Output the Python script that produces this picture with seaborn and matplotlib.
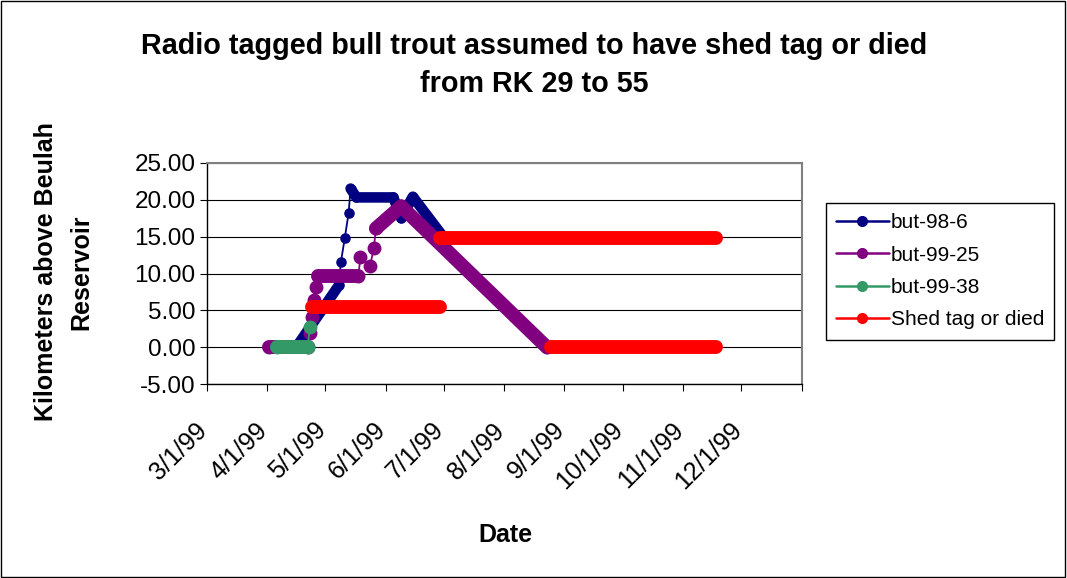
import matplotlib
matplotlib.use("Agg")
import matplotlib.pyplot as plt
import matplotlib.transforms as mtransforms
from matplotlib.lines import Line2D
from matplotlib.patches import Rectangle
import pandas as pd
import seaborn as sns

# ---------------- data ----------------
navy_dates = ["1999-04-16", "1999-05-08", "1999-05-09", "1999-05-11", "1999-05-13",
              "1999-05-14", "1999-05-17", "1999-06-05", "1999-06-09", "1999-06-15",
              "1999-06-30"]
navy_km = [0.0, 8.4, 11.5, 14.8, 18.2, 21.5, 20.3, 20.3, 17.5, 20.4, 15.2]

purple_dates = ["1999-04-02", "1999-04-22", "1999-04-23", "1999-04-24", "1999-04-25",
                "1999-04-26", "1999-04-27", "1999-05-18", "1999-05-19", "1999-05-24",
                "1999-05-26", "1999-05-27", "1999-06-09", "1999-08-23"]
purple_km = [0.0, 0.0, 1.9, 4.1, 6.4, 8.2, 9.6, 9.6, 12.2, 11.0, 13.5, 16.1, 19.1, 0.0]

green_dates = ["1999-04-06", "1999-04-22", "1999-04-23"]
green_km = [0.0, 0.0, 2.8]

red_start = ["1999-04-24", "1999-06-29", "1999-08-25"]
red_end = ["1999-06-29", "1999-11-18", "1999-11-18"]
red_km = [5.4, 14.8, 0.0]

series_names = ["but-98-6", "but-99-25", "but-99-38", "Shed tag or died"]
tick_dates = ["1999-03-01", "1999-04-01", "1999-05-01", "1999-06-01", "1999-07-01",
              "1999-08-01", "1999-09-01", "1999-10-01", "1999-11-01", "1999-12-01",
              "2000-01-01"]
tick_labels = ["3/1/99", "4/1/99", "5/1/99", "6/1/99", "7/1/99", "8/1/99", "9/1/99",
               "10/1/99", "11/1/99", "12/1/99", ""]
y_ticks = [-5, 0, 5, 10, 15, 20, 25]

# index runs where daily fixes overlap into a solid band (style only)
navy_dense = [(0, 1), (5, 10)]
purple_dense = [(0, 1), (6, 7), (11, 13)]
green_dense = [(0, 1)]

# ---------------- style ----------------
sns.set_style("white")
plt.rcParams["font.family"] = ["Liberation Sans", "DejaVu Sans"]
for key in ["text.color", "axes.labelcolor", "xtick.color", "ytick.color"]:
    plt.rcParams[key] = "black"

NAVY = "#000080"
PURPLE = "#800080"
GREEN = "#339966"
RED = "#FF0000"

fig = plt.figure(figsize=(10.67, 5.78), dpi=100)
ax = fig.add_axes([206.7 / 1067, 1 - 384.3 / 578, (801.7 - 206.7) / 1067, (384.3 - 162.7) / 578])


def draw_series(dates, vals, color, dense, band_w, ms, z):
    df = pd.DataFrame({"date": pd.to_datetime(dates), "km": vals})
    sns.lineplot(data=df, x="date", y="km", ax=ax, color=color, lw=1.3, marker="o",
                 markersize=ms, markeredgewidth=0, sort=False, estimator=None,
                 legend=False, zorder=z)
    for a, b in dense:
        sub = df.iloc[a:b + 1]
        sns.lineplot(data=sub, x="date", y="km", ax=ax, color=color, lw=band_w,
                     sort=False, estimator=None, legend=False, zorder=z)
        ax.lines[-1].set_solid_capstyle("round")
        ax.lines[-1].set_solid_joinstyle("round")


draw_series(navy_dates, navy_km, NAVY, navy_dense, 7.6, 7.6, 3)
draw_series(purple_dates, purple_km, PURPLE, purple_dense, 10.0, 10.0, 4)
draw_series(green_dates, green_km, GREEN, green_dense, 10.0, 10.0, 5)

for s, e, v in zip(red_start, red_end, red_km):
    seg = pd.DataFrame({"date": pd.to_datetime([s, e]), "km": [v, v]})
    sns.lineplot(data=seg, x="date", y="km", ax=ax, color=RED, lw=10.0, sort=False,
                 estimator=None, legend=False, zorder=6)
    ax.lines[-1].set_solid_capstyle("round")

# axes
ax.set_xlim(pd.Timestamp(tick_dates[0]), pd.Timestamp(tick_dates[-1]))
ax.set_ylim(-5, 25)
ax.set_yticks(y_ticks)
ax.set_yticklabels([f"{v:.2f}" for v in y_ticks])
ax.set_xticks(pd.to_datetime(tick_dates))
ax.set_xticklabels(tick_labels, rotation=45, ha="right", rotation_mode="anchor")
ax.set_xlabel("")
ax.set_ylabel("")

ax.grid(axis="y", color="black", lw=0.8)
ax.grid(axis="x", visible=False)
ax.set_axisbelow(True)
for side in ["left", "bottom"]:
    ax.spines[side].set_color("black")
    ax.spines[side].set_linewidth(1.0)
for side in ["top", "right"]:
    ax.spines[side].set_color("#808080")
    ax.spines[side].set_linewidth(1.5)
    ax.spines[side].set_visible(True)
ax.tick_params(axis="both", direction="out", length=5, width=0.8, color="black",
               labelsize=17.5, left=True, bottom=True)
ax.tick_params(axis="y", pad=3)
ax.tick_params(axis="x", pad=12, labelsize=18)
shift = mtransforms.ScaledTranslation(-12 / 100, -10 / 100, fig.dpi_scale_trans)
for lab in ax.get_xticklabels():
    lab.set_transform(lab.get_transform() + shift)

# titles and labels
fig.text(534 / 1067, 1 - 46 / 578, "Radio tagged bull trout assumed to have shed tag or died",
         ha="center", va="center", fontsize=20.7, fontweight="bold")
fig.text(534 / 1067, 1 - 84 / 578, "from RK 29 to 55",
         ha="center", va="center", fontsize=20.7, fontweight="bold")
fig.text(46 / 1067, 1 - 272 / 578, "Kilometers above Beulah", rotation=90,
         ha="center", va="center", fontsize=18, fontweight="bold")
fig.text(81 / 1067, 1 - 272 / 578, "Reservoir", rotation=90,
         ha="center", va="center", fontsize=18, fontweight="bold")
fig.text(505 / 1067, 1 - 535 / 578, "Date", ha="center", va="center",
         fontsize=18, fontweight="bold")

# legend
handles = [Line2D([0], [0], color=c, lw=1.8, marker="o", markersize=8, markeredgewidth=0)
           for c in [NAVY, PURPLE, GREEN, RED]]
leg = fig.legend(handles, series_names, loc="upper left",
                 bbox_to_anchor=(826 / 1067, 1 - 203 / 578), fontsize=15,
                 frameon=True, fancybox=False, edgecolor="black", framealpha=1,
                 handlelength=2.5, handletextpad=0.1, labelspacing=0.64,
                 borderpad=0.5, borderaxespad=0)
leg.get_frame().set_linewidth(1.0)

# outer figure border
fig.patches.append(Rectangle((0.001, 0.001), 0.997, 0.997, transform=fig.transFigure,
                             fill=False, edgecolor="black", lw=1.0))

fig.savefig("out.png", dpi=100)
